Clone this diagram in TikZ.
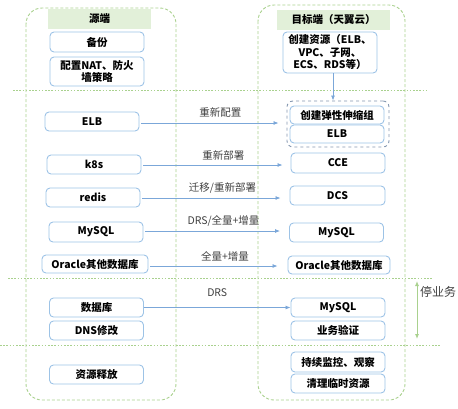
\documentclass[tikz,border=0pt]{standalone}
\usepackage{fontspec}
\setmainfont{Noto Sans CJK SC}
\usetikzlibrary{positioning}
\usetikzlibrary{arrows.meta}

\definecolor{frameGreen}{HTML}{A9D18E}
\definecolor{headGreen}{HTML}{E2F0D9}
\definecolor{boxBlue}{HTML}{9DC3E6}
\definecolor{arrBlue}{HTML}{7BA7D9}
\definecolor{grpBlue}{HTML}{8497B0}
\definecolor{txtGray}{HTML}{404040}

\tikzset{
  frame/.style={draw=frameGreen, line width=0.9pt, dash pattern=on 3pt off 2pt, rounded corners=16pt},
  sep/.style={draw=frameGreen, line width=0.9pt, dash pattern=on 1.6pt off 1.6pt},
  head/.style={fill=headGreen, inner sep=0pt, minimum height=20pt, font=\fontsize{10.5}{12}\selectfont\bfseries},
  task/.style={draw=boxBlue, line width=0.9pt, rounded corners=4pt, inner sep=0pt,
    minimum width=94pt, minimum height=19pt, align=center, font=\fontsize{10.5}{12.5}\selectfont\bfseries},
  grp/.style={draw=grpBlue, line width=0.9pt, dashed, rounded corners=6pt},
  arr/.style={draw=arrBlue, line width=0.8pt, -{Latex[length=5pt,width=4pt]}},
  lab/.style={text=txtGray, font=\fontsize{10.5}{12}\selectfont, inner sep=1pt}
}

\begin{document}
\begin{tikzpicture}[x=1pt,y=-1pt]
\useasboundingbox (0,0) rectangle (458,408);
%frames
\draw[frame] (26,8) rectangle (176,400);
\draw[frame] (258,5) rectangle (405,400);
%separators
\draw[sep] (13,90) -- (428,90);
\draw[sep] (8,278.5) -- (433,278.5);
\draw[sep] (0,345) -- (441,345);
%headers
\node[head, minimum width=103pt] (srcHead) at (99.5,19) {源端};
\node[head, minimum width=113pt] (dstHead) at (333.5,19.5) {目标端（天翼云）};
%source side
\node[task, minimum height=20pt] (backup) at (97,42) {备份};
\node[task, minimum height=29pt] (nat) at (97,71.5) {配置NAT、防火\\墙策略};
\node[task] (elbL) at (92,121.5) {ELB};
\node[task] (k8s) at (94,164.5) {k8s};
\node[task] (redis) at (93,197.5) {redis};
\node[task, minimum height=20pt] (mysqlL) at (96,232) {MySQL};
\node[task, minimum width=106pt, minimum height=18pt] (oracleL) at (95,264) {Oracle其他数据库};
\node[task] (dbL) at (96.5,307.5) {数据库};
\node[task] (dns) at (96.5,330.5) {DNS修改};
\node[task] (release) at (96.5,374.5) {资源释放};
%target side
\node[task, minimum height=41pt] (create) at (330,52.5) {创建资源（ELB、\\VPC、子网、\\ECS、RDS等）};
\node[grp, minimum width=102pt, minimum height=46pt] (group) at (338,124) {};
\node[task, minimum height=18pt] (asg) at (337,115) {创建弹性伸缩组};
\node[task, minimum height=18pt] (elbR) at (337,134) {ELB};
\node[task, minimum height=20pt] (cce) at (338,163) {CCE};
\node[task, minimum width=95pt] (dcs) at (337.5,195.5) {DCS};
\node[task] (mysqlR) at (336.5,232.5) {MySQL};
\node[task, minimum width=102pt, minimum height=18pt] (oracleR) at (339,265) {Oracle其他数据库};
\node[task] (mysqlR2) at (338,307.5) {MySQL};
\node[task] (verify) at (338,330.5) {业务验证};
\node[task, minimum height=20pt] (monitor) at (338,362) {持续监控、观察};
\node[task] (cleanup) at (338,383.5) {清理临时资源};
%arrows
\draw[arr] ([xshift=3pt]create.south) -- ([xshift=3pt]create.south |- group.north);
\draw[arr, shorten <=2pt, shorten >=8pt] (elbL.east |- 0,123) -- (group.west |- 0,123) node[lab, above=4pt, pos=0.55] {重新配置};
\draw[arr, shorten <=2pt, shorten >=8pt] (k8s.east |- 0,165) -- (cce.west |- 0,165) node[lab, above=3pt, pos=0.55] {重新部署};
\draw[arr, shorten <=2pt, shorten >=9pt] (redis.east |- 0,198) -- (dcs.west |- 0,198) node[lab, above=3pt, pos=0.55] {迁移/重新部署};
\draw[arr, shorten <=2pt, shorten >=9pt] (mysqlL.east |- 0,231) -- (mysqlR.west |- 0,231) node[lab, above=3pt, pos=0.55] {DRS/全量+增量};
\draw[arr, shorten <=2pt, shorten >=10pt] (oracleL.east |- 0,266) -- (oracleR.west |- 0,266) node[lab, above=3pt, pos=0.55] {全量+增量};
\draw[arr] (dbL.east) -- (mysqlR2.west) node[lab, above=9pt, pos=0.5] {DRS};
%downtime
\coordinate (stopTop) at (417,281);
\coordinate (stopBot) at (417,339);
\draw[draw=frameGreen, line width=0.9pt, {Latex[length=5pt,width=4pt]}-{Latex[length=5pt,width=4pt]}] (stopTop) -- (stopBot);
\node[lab, anchor=west, font=\fontsize{12}{14}\selectfont] (stop) at (419,292) {停业务};
\end{tikzpicture}
\end{document}
